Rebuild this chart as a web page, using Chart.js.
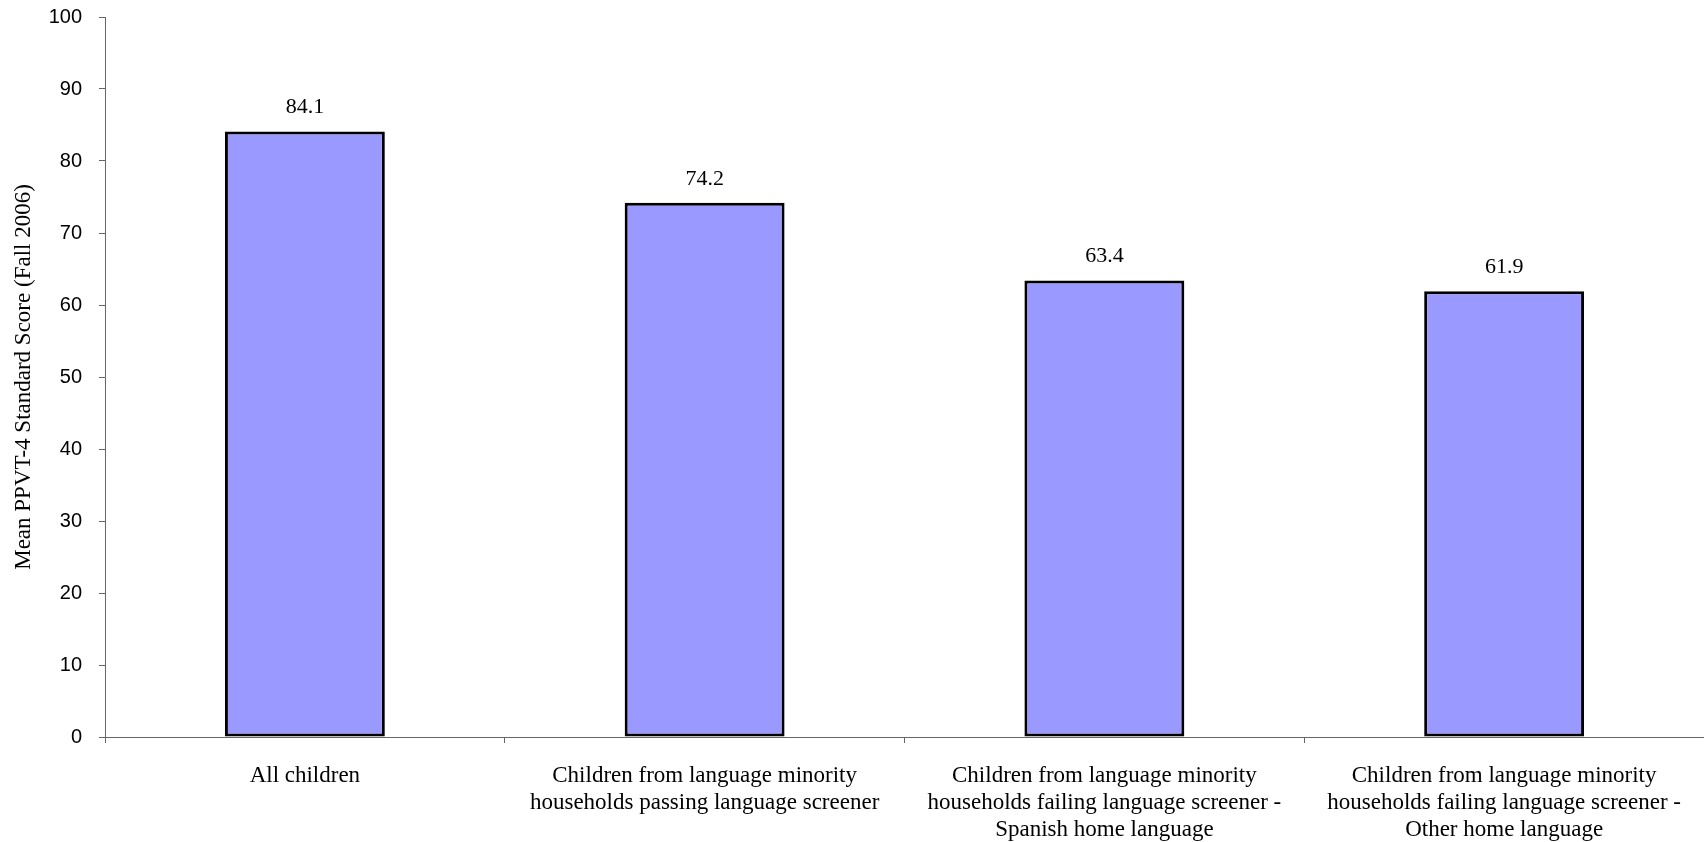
<!DOCTYPE html>
<html>
<head>
<meta charset="utf-8">
<script src="https://cdn.jsdelivr.net/npm/chart.js@4/dist/chart.umd.min.js"></script>
<style>
  html, body { margin: 0; padding: 0; background: #ffffff; }
  #wrap { width: 1704px; height: 842px; position: relative; }
</style>
</head>
<body>
<div id="wrap"><canvas id="chart"></canvas></div>
<script>
// Category labels (multi-line) and mean scores
const categories = [
  ["All children"],
  ["Children from language minority", "households passing language screener"],
  ["Children from language minority", "households failing language screener -", "Spanish home language"],
  ["Children from language minority", "households failing language screener -", "Other home language"]
];
const meanScores = [84.1, 74.2, 63.4, 61.9];
const yTicks = [0, 10, 20, 30, 40, 50, 60, 70, 80, 90, 100];
const yTitle = "Mean PPVT-4 Standard Score (Fall 2006)";

// Value labels drawn above each bar
const valueLabels = {
  id: 'valueLabels',
  afterDatasetsDraw(chart) {
    const ctx = chart.ctx;
    const meta = chart.getDatasetMeta(0);
    ctx.save();
    ctx.font = '22px "Liberation Serif", "Times New Roman", serif';
    ctx.fillStyle = '#000000';
    ctx.textAlign = 'center';
    ctx.textBaseline = 'middle';
    meta.data.forEach((bar, i) => {
      ctx.fillText(meanScores[i].toFixed(1), bar.x, bar.y - 24);
    });
    ctx.restore();
  }
};

new Chart(document.getElementById('chart'), {
  type: 'bar',
  data: {
    labels: categories,
    datasets: [{
      data: meanScores,
      backgroundColor: '#9999FF',
      borderColor: '#000000',
      borderWidth: 3,
      borderSkipped: false,
      barPercentage: 0.8,
      categoryPercentage: 0.5
    }]
  },
  options: {
    responsive: true,
    maintainAspectRatio: false,
    animation: false,
    layout: { padding: { top: 17, left: 0, right: 0, bottom: 0 } },
    plugins: {
      legend: { display: false },
      tooltip: { enabled: false }
    },
    scales: {
      x: {
        offset: true,
        grid: {
          offset: true,
          drawOnChartArea: false,
          drawTicks: true,
          tickLength: 6,
          color: '#666666'
        },
        border: { display: true, color: '#666666', width: 1 },
        ticks: {
          color: '#000000',
          font: { family: '"Liberation Serif", "Times New Roman", serif', size: 23, lineHeight: 1.18 },
          padding: 19,
          maxRotation: 0,
          autoSkip: false
        },
        afterFit(scale) { scale.height = 105; }
      },
      y: {
        min: 0,
        max: 100,
        afterBuildTicks(scale) { scale.ticks = yTicks.map(v => ({ value: v })); },
        grid: {
          drawOnChartArea: false,
          drawTicks: true,
          tickLength: 6,
          color: '#666666'
        },
        border: { display: true, color: '#666666', width: 1 },
        ticks: {
          color: '#000000',
          font: { family: '"Liberation Sans", Arial, sans-serif', size: 20 },
          padding: 17
        },
        title: {
          display: true,
          text: yTitle,
          color: '#000000',
          font: { family: '"Liberation Serif", "Times New Roman", serif', size: 23 },
          padding: { top: 10, bottom: 0 }
        },
        afterFit(scale) {
          scale.width = 105;
          scale.paddingTop = 0;
          scale.paddingBottom = 0;
        }
      }
    }
  },
  plugins: [valueLabels]
});
</script>
</body>
</html>
